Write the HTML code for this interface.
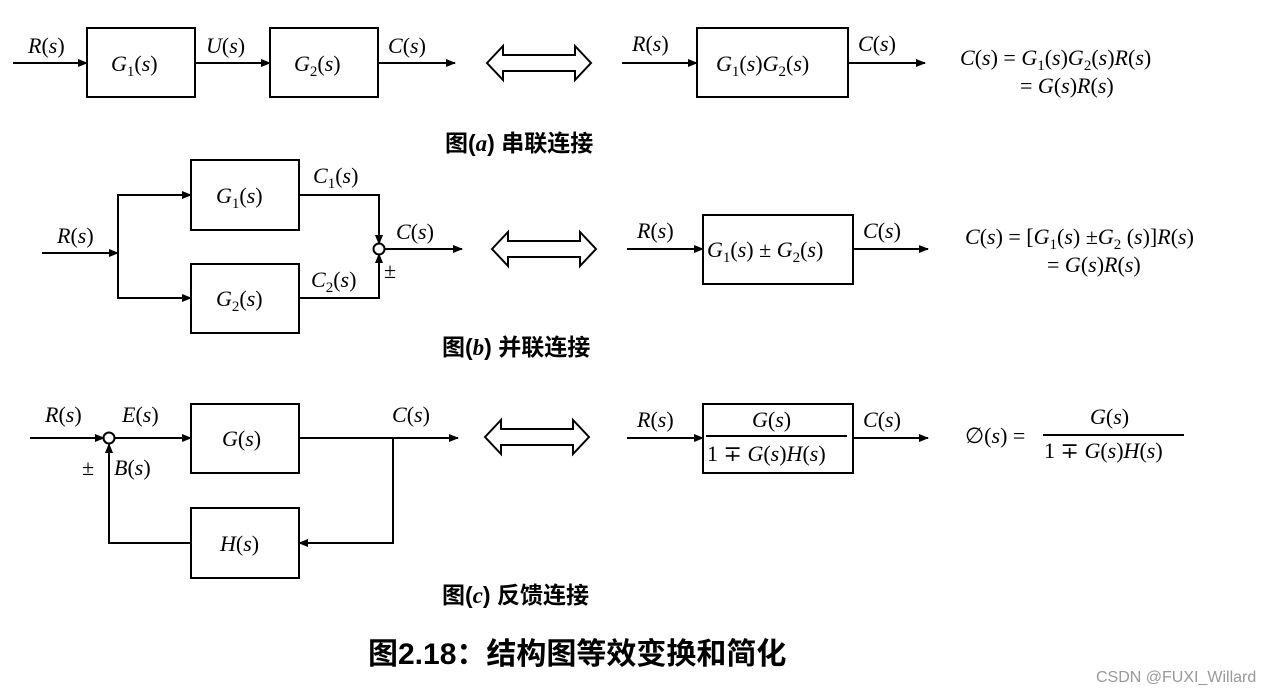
<!DOCTYPE html>
<html><head><meta charset="utf-8"><style>
html,body{margin:0;padding:0;background:#fff;}
svg{display:block;}
.m{font-family:"Liberation Serif","DejaVu Serif",serif;font-style:italic;font-size:22px;fill:#000;}
.n{font-style:normal;}
.cap{font-family:"Liberation Sans","Noto Sans CJK SC",sans-serif;font-weight:bold;font-size:23px;fill:#000;}
.title{font-family:"Liberation Sans","Noto Sans CJK SC",sans-serif;font-weight:bold;font-size:30px;fill:#000;}
</style></head><body>
<svg width="1273" height="694" viewBox="0 0 1273 694" xmlns="http://www.w3.org/2000/svg">
<defs>
<marker id="a" markerWidth="10" markerHeight="8" refX="9" refY="4" orient="auto" markerUnits="userSpaceOnUse">
<path d="M0,0 L10,4 L0,8 z" fill="#000"/></marker>
<g id="dbl"><path d="M0,0 L16,-17 L16,-8 L88,-8 L88,-17 L104,0 L88,17 L88,8 L16,8 L16,17 z" fill="#fff" stroke="#000" stroke-width="2"/></g>
</defs>
<g stroke="#000" stroke-width="2" fill="none">
<!-- row a -->
<line x1="13" y1="63" x2="87" y2="63" marker-end="url(#a)"/>
<rect x="87" y="28" width="108" height="69"/>
<line x1="195" y1="63" x2="270" y2="63" marker-end="url(#a)"/>
<rect x="270" y="28" width="108" height="69"/>
<line x1="378" y1="63" x2="455" y2="63" marker-end="url(#a)"/>
<line x1="622" y1="63" x2="697" y2="63" marker-end="url(#a)"/>
<rect x="697" y="28" width="151" height="69"/>
<line x1="848" y1="63" x2="925" y2="63" marker-end="url(#a)"/>
<!-- row b -->
<line x1="42" y1="253" x2="118" y2="253" marker-end="url(#a)"/>
<polyline points="191,195 118,195 118,298 191,298"/>
<line x1="118" y1="195" x2="191" y2="195" marker-end="url(#a)"/>
<line x1="118" y1="298" x2="191" y2="298" marker-end="url(#a)"/>
<rect x="191" y="160" width="108" height="70"/>
<rect x="191" y="264" width="108" height="69"/>
<polyline points="299,195 379,195 379,244" marker-end="url(#a)"/>
<polyline points="299,298 379,298 379,254" marker-end="url(#a)"/>
<circle cx="379" cy="249" r="5.5"/>
<line x1="385" y1="249" x2="462" y2="249" marker-end="url(#a)"/>
<line x1="627" y1="249" x2="703" y2="249" marker-end="url(#a)"/>
<rect x="703" y="215" width="150" height="69"/>
<line x1="853" y1="249" x2="928" y2="249" marker-end="url(#a)"/>
<!-- row c -->
<line x1="30" y1="438" x2="104" y2="438" marker-end="url(#a)"/>
<circle cx="109" cy="438" r="5.5"/>
<line x1="115" y1="438" x2="191" y2="438" marker-end="url(#a)"/>
<rect x="191" y="404" width="108" height="69"/>
<line x1="299" y1="438" x2="458" y2="438" marker-end="url(#a)"/>
<polyline points="393,438 393,543 299,543" marker-end="url(#a)"/>
<rect x="191" y="508" width="108" height="70"/>
<polyline points="191,543 109,543 109,444" marker-end="url(#a)"/>
<line x1="627" y1="438" x2="703" y2="438" marker-end="url(#a)"/>
<rect x="703" y="404" width="150" height="69"/>
<line x1="706" y1="436" x2="847" y2="436"/>
<line x1="853" y1="438" x2="928" y2="438" marker-end="url(#a)"/>
<line x1="1043" y1="435" x2="1184" y2="435"/>
</g>
<use href="#dbl" x="487" y="63"/>
<use href="#dbl" x="492" y="249"/>
<use href="#dbl" x="485" y="437"/>

<!-- text row a -->
<text class="m" x="28" y="53">R<tspan class="n">(</tspan>s<tspan class="n">)</tspan></text>
<text class="m" x="111" y="71">G<tspan class="n" font-size="15" dy="5">1</tspan><tspan class="n" dy="-5">(</tspan>s<tspan class="n">)</tspan></text>
<text class="m" x="206" y="53">U<tspan class="n">(</tspan>s<tspan class="n">)</tspan></text>
<text class="m" x="294" y="71">G<tspan class="n" font-size="15" dy="5">2</tspan><tspan class="n" dy="-5">(</tspan>s<tspan class="n">)</tspan></text>
<text class="m" x="388" y="53">C<tspan class="n">(</tspan>s<tspan class="n">)</tspan></text>
<text class="m" x="632" y="51">R<tspan class="n">(</tspan>s<tspan class="n">)</tspan></text>
<text class="m" x="716" y="71">G<tspan class="n" font-size="15" dy="5">1</tspan><tspan class="n" dy="-5">(</tspan>s<tspan class="n">)</tspan>G<tspan class="n" font-size="15" dy="5">2</tspan><tspan class="n" dy="-5">(</tspan>s<tspan class="n">)</tspan></text>
<text class="m" x="858" y="51">C<tspan class="n">(</tspan>s<tspan class="n">)</tspan></text>
<text class="m" x="960" y="65">C<tspan class="n">(</tspan>s<tspan class="n">) = </tspan>G<tspan class="n" font-size="15" dy="5">1</tspan><tspan class="n" dy="-5">(</tspan>s<tspan class="n">)</tspan>G<tspan class="n" font-size="15" dy="5">2</tspan><tspan class="n" dy="-5">(</tspan>s<tspan class="n">)</tspan>R<tspan class="n">(</tspan>s<tspan class="n">)</tspan></text>
<text class="m" x="1020" y="93"><tspan class="n">= </tspan>G<tspan class="n">(</tspan>s<tspan class="n">)</tspan>R<tspan class="n">(</tspan>s<tspan class="n">)</tspan></text>
<text class="cap" x="445" y="151">图(<tspan font-family="Liberation Serif" font-style="italic">a</tspan>) 串联连接</text>

<!-- text row b -->
<text class="m" x="57" y="243">R<tspan class="n">(</tspan>s<tspan class="n">)</tspan></text>
<text class="m" x="216" y="203">G<tspan class="n" font-size="15" dy="5">1</tspan><tspan class="n" dy="-5">(</tspan>s<tspan class="n">)</tspan></text>
<text class="m" x="216" y="306">G<tspan class="n" font-size="15" dy="5">2</tspan><tspan class="n" dy="-5">(</tspan>s<tspan class="n">)</tspan></text>
<text class="m" x="313" y="183">C<tspan class="n" font-size="15" dy="5">1</tspan><tspan class="n" dy="-5">(</tspan>s<tspan class="n">)</tspan></text>
<text class="m" x="311" y="287">C<tspan class="n" font-size="15" dy="5">2</tspan><tspan class="n" dy="-5">(</tspan>s<tspan class="n">)</tspan></text>
<text class="m" x="396" y="239">C<tspan class="n">(</tspan>s<tspan class="n">)</tspan></text>
<text class="m n" x="384" y="278">±</text>
<text class="m" x="637" y="238">R<tspan class="n">(</tspan>s<tspan class="n">)</tspan></text>
<text class="m" x="707" y="257">G<tspan class="n" font-size="15" dy="5">1</tspan><tspan class="n" dy="-5">(</tspan>s<tspan class="n">) ± </tspan>G<tspan class="n" font-size="15" dy="5">2</tspan><tspan class="n" dy="-5">(</tspan>s<tspan class="n">)</tspan></text>
<text class="m" x="863" y="238">C<tspan class="n">(</tspan>s<tspan class="n">)</tspan></text>
<text class="m" x="965" y="244">C<tspan class="n">(</tspan>s<tspan class="n">) = [</tspan>G<tspan class="n" font-size="15" dy="5">1</tspan><tspan class="n" dy="-5">(</tspan>s<tspan class="n">) ±</tspan>G<tspan class="n" font-size="15" dy="5">2</tspan><tspan class="n" dy="-5"> (</tspan>s<tspan class="n">)]</tspan>R<tspan class="n">(</tspan>s<tspan class="n">)</tspan></text>
<text class="m" x="1047" y="272"><tspan class="n">= </tspan>G<tspan class="n">(</tspan>s<tspan class="n">)</tspan>R<tspan class="n">(</tspan>s<tspan class="n">)</tspan></text>
<text class="cap" x="442" y="355">图(<tspan font-family="Liberation Serif" font-style="italic">b</tspan>) 并联连接</text>

<!-- text row c -->
<text class="m" x="45" y="422">R<tspan class="n">(</tspan>s<tspan class="n">)</tspan></text>
<text class="m" x="122" y="422">E<tspan class="n">(</tspan>s<tspan class="n">)</tspan></text>
<text class="m" x="222" y="446">G<tspan class="n">(</tspan>s<tspan class="n">)</tspan></text>
<text class="m" x="392" y="422">C<tspan class="n">(</tspan>s<tspan class="n">)</tspan></text>
<text class="m n" x="82" y="475">±</text>
<text class="m" x="114" y="475">B<tspan class="n">(</tspan>s<tspan class="n">)</tspan></text>
<text class="m" x="220" y="551">H<tspan class="n">(</tspan>s<tspan class="n">)</tspan></text>
<text class="m" x="637" y="427">R<tspan class="n">(</tspan>s<tspan class="n">)</tspan></text>
<text class="m" x="752" y="427">G<tspan class="n">(</tspan>s<tspan class="n">)</tspan></text>
<text class="m" x="707" y="461"><tspan class="n">1 ∓ </tspan>G<tspan class="n">(</tspan>s<tspan class="n">)</tspan>H<tspan class="n">(</tspan>s<tspan class="n">)</tspan></text>
<text class="m" x="863" y="427">C<tspan class="n">(</tspan>s<tspan class="n">)</tspan></text>
<text class="m" x="965" y="443"><tspan class="n">∅(</tspan>s<tspan class="n">) =</tspan></text>
<text class="m" x="1090" y="424">G<tspan class="n">(</tspan>s<tspan class="n">)</tspan></text>
<text class="m" x="1044" y="458"><tspan class="n">1 ∓ </tspan>G<tspan class="n">(</tspan>s<tspan class="n">)</tspan>H<tspan class="n">(</tspan>s<tspan class="n">)</tspan></text>
<text class="cap" x="442" y="603">图(<tspan font-family="Liberation Serif" font-style="italic">c</tspan>) 反馈连接</text>

<text class="title" x="368" y="664">图2.18：结构图等效变换和简化</text>
<text x="1096" y="682" font-family="Liberation Sans,sans-serif" font-size="16" fill="#999">CSDN @FUXI_Willard</text>
</svg>
</body></html>
